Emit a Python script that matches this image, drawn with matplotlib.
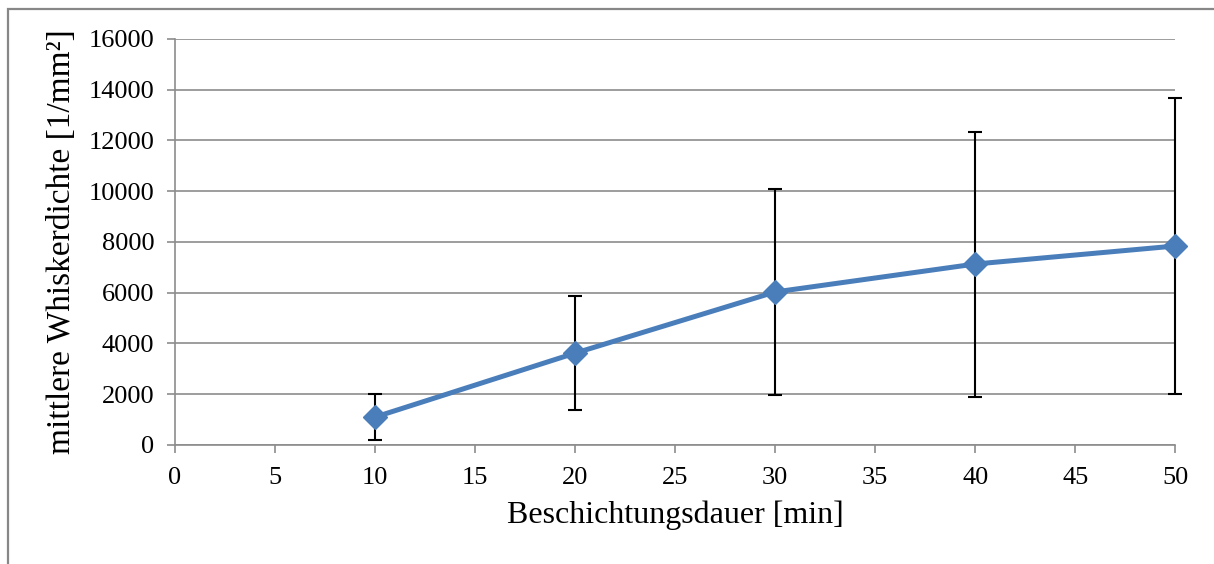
import matplotlib
matplotlib.use('Agg')
import matplotlib.pyplot as plt
from matplotlib.patches import Rectangle

# Beschichtungsdauer [min] vs. mittlere Whiskerdichte [1/mm²]
dauer = [10, 20, 30, 40, 50]
dichte = [1100, 3620, 6030, 7130, 7840]
fehler = [900, 2260, 4060, 5220, 5830]

x_ticks = list(range(0, 51, 5))
y_ticks = list(range(0, 16001, 2000))

plt.rcParams['font.family'] = ['Liberation Serif', 'DejaVu Serif']

fig = plt.figure(figsize=(12.14, 5.64), dpi=100)
ax = fig.add_axes([0.1442, 0.211, 0.8238, 0.720])

# outer chart frame (cropped on right and bottom)
fig.patches.append(Rectangle((8 / 1214, -0.1), 1.2, 1 - 9 / 564 + 0.1,
                             transform=fig.transFigure, fill=False,
                             edgecolor='#878787', linewidth=1.6))

ax.errorbar(dauer, dichte, yerr=fehler, fmt='none', ecolor='black',
            elinewidth=1.5, capsize=5, capthick=1.5, zorder=3, clip_on=False)
ax.plot(dauer, dichte, color='#4A7EBB', linewidth=3.6, marker='D',
        markersize=12.5, zorder=4, clip_on=False)

ax.set_xlim(0, 50)
ax.set_ylim(0, 16000)
ax.set_xticks(x_ticks)
ax.set_yticks(y_ticks)
ax.grid(axis='y', color='#8c8c8c', linewidth=1.2)
ax.set_axisbelow(True)

for side in ('top', 'right'):
    ax.spines[side].set_visible(False)
for side in ('left', 'bottom'):
    ax.spines[side].set_color('#8c8c8c')
    ax.spines[side].set_linewidth(1.2)
ax.tick_params(axis='both', direction='out', length=6, color='#8c8c8c',
               width=1.2, labelsize=19)
ax.tick_params(axis='x', pad=10)
ax.tick_params(axis='y', pad=9)

ax.set_xlabel('Beschichtungsdauer [min]', fontsize=23, labelpad=8)
ax.set_ylabel('mittlere Whiskerdichte [1/mm²]', fontsize=24, labelpad=8)

fig.savefig('out.png', dpi=100)
